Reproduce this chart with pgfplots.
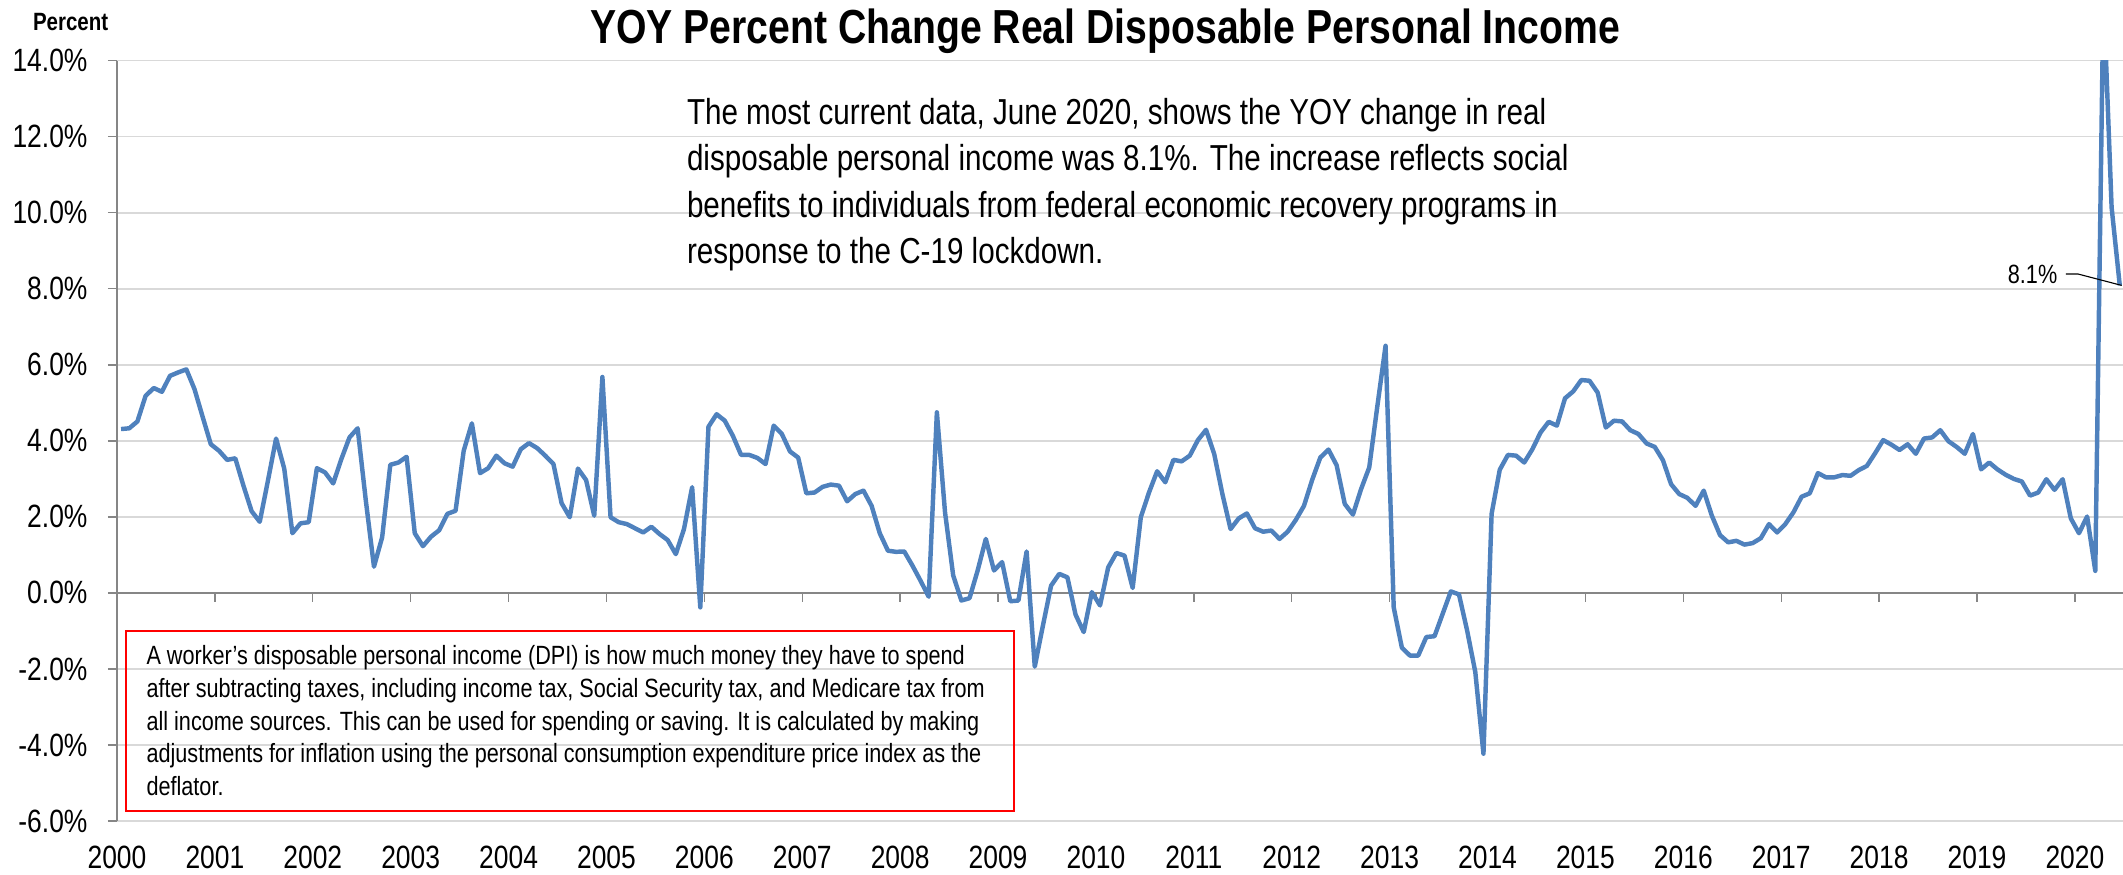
\documentclass[border=0pt]{standalone}
\usepackage{fontspec}
\setmainfont{Liberation Sans}[FakeStretch=0.82]
\usepackage{pgfplots}
\pgfplotsset{compat=1.18}
\usepackage{pgfplotstable}
\definecolor{dpiblue}{HTML}{4F81BD}
\definecolor{gridgray}{HTML}{D9D9D9}
\definecolor{axisgray}{HTML}{868686}
\pgfplotstableread{
y
4.31
4.33
4.51
5.18
5.39
5.29
5.71
5.80
5.88
5.36
4.63
3.91
3.74
3.50
3.54
2.82
2.15
1.87
2.95
4.06
3.27
1.57
1.83
1.86
3.28
3.17
2.88
3.52
4.09
4.33
2.43
0.69
1.46
3.37
3.43
3.58
1.57
1.23
1.48
1.65
2.08
2.16
3.74
4.46
3.15
3.28
3.61
3.41
3.32
3.78
3.94
3.81
3.61
3.39
2.36
1.99
3.27
2.97
2.03
5.68
1.99
1.86
1.81
1.70
1.59
1.74
1.55
1.39
1.02
1.68
2.78
-0.38
4.37
4.70
4.53
4.13
3.63
3.63
3.55
3.39
4.40
4.18
3.72
3.56
2.62
2.64
2.79
2.85
2.82
2.41
2.60
2.69
2.29
1.57
1.11
1.08
1.09
0.72
0.32
-0.10
4.75
2.12
0.46
-0.20
-0.14
0.59
1.42
0.59
0.81
-0.22
-0.20
1.09
-1.94
-0.86
0.19
0.50
0.41
-0.57
-1.03
0.02
-0.33
0.67
1.05
0.98
0.13
1.99
2.64
3.20
2.91
3.50
3.46
3.61
4.02
4.29
3.65
2.60
1.68
1.96
2.09
1.70
1.61
1.64
1.42
1.61
1.92
2.29
2.97
3.56
3.77
3.36
2.34
2.06
2.73
3.30
4.92
6.50
-0.38
-1.44
-1.65
-1.65
-1.16
-1.14
-0.55
0.04
-0.04
-0.99
-2.08
-4.23
2.08
3.24
3.63
3.61
3.43
3.78
4.22
4.50
4.40
5.12
5.30
5.60
5.58
5.27
4.35
4.53
4.51
4.28
4.18
3.93
3.84
3.49
2.86
2.60
2.50
2.29
2.69
2.03
1.52
1.33
1.37
1.27
1.31
1.44
1.81
1.59
1.81
2.12
2.53
2.62
3.15
3.04
3.04
3.10
3.08
3.23
3.34
3.67
4.02
3.90
3.76
3.91
3.66
4.06
4.09
4.28
3.99
3.84
3.66
4.18
3.25
3.43
3.25
3.11
3.00
2.93
2.56
2.64
2.99
2.71
2.99
1.96
1.57
2.01
0.58
15.80
10.14
8.09
}\dpidata
\begin{document}
\begin{tikzpicture}
\path[use as bounding box] (-42.12pt,-19.44pt) rectangle (722.16pt,295.56pt);
\begin{axis}[
  at={(0,0)}, anchor=south west,
  scale only axis, width=722.16pt, height=273.71pt,
  xmin=-0.5, xmax=245.4, ymin=-6, ymax=14,
  axis line style={draw=none},
  xtick={-0.5,11.5,23.5,35.5,47.5,59.5,71.5,83.5,95.5,107.5,119.5,131.5,143.5,155.5,167.5,179.5,191.5,203.5,215.5,227.5,239.5},
  xticklabels={2000,2001,2002,2003,2004,2005,2006,2007,2008,2009,2010,2011,2012,2013,2014,2015,2016,2017,2018,2019,2020},
  ytick={-6,-4,-2,0,2,4,6,8,10,12,14},
  yticklabels={-6.0\%,-4.0\%,-2.0\%,0.0\%,2.0\%,4.0\%,6.0\%,8.0\%,10.0\%,12.0\%,14.0\%},
  ymajorgrids,
  major grid style={draw=gridgray, line width=0.55pt},
  tick pos=left, tick align=outside, major tick length=3.24pt,
  xtick style={draw=none},
  ytick style={draw=axisgray, line width=0.5pt},
  xticklabel style={font=\fontsize{11.6}{13}\selectfont, anchor=north, inner sep=0pt, yshift=-5.6pt},
  yticklabel style={font=\fontsize{11.6}{13}\selectfont, anchor=east, inner sep=0pt, xshift=-7.2pt},
  clip=true,
]
\draw[axisgray, line width=0.6pt] (axis cs:-0.5,0) -- (axis cs:245.4,0);
\pgfplotsinvokeforeach{11.5,23.5,35.5,47.5,59.5,71.5,83.5,95.5,107.5,119.5,131.5,143.5,155.5,167.5,179.5,191.5,203.5,215.5,227.5,239.5}{
  \draw[axisgray, line width=0.5pt] (axis cs:#1,0) -- ++(0pt,-3.24pt);
}
\addplot[dpiblue, line width=1.6pt, line join=round, mark=none] table[x expr=\coordindex, y=y]{\dpidata};
\end{axis}
\draw[axisgray, line width=0.5pt] (0pt,0pt) -- (0pt,273.71pt);
% title and unit label
\node[font=\bfseries\fontsize{17.2}{19}\selectfont, anchor=base] at (355.7pt,279.8pt) {YOY Percent Change Real Disposable Personal Income};
\node[font=\bfseries\fontsize{9}{11}\selectfont, anchor=base] at (-16.7pt,284.5pt) {Percent};
% annotation text
\begin{scope}[every node/.style={anchor=base west, inner sep=0pt, font=\fontsize{13.0}{16}\selectfont}]
\node at (205.0pt,250.6pt) {The most current data, June 2020, shows the YOY change in real};
\node at (205.0pt,234.0pt) {disposable personal income was 8.1\%. The increase reflects social};
\node at (205.0pt,217.4pt) {benefits to individuals from federal economic recovery programs in};
\node at (205.0pt,200.8pt) {response to the C-19 lockdown.};
\end{scope}
% definition box
\draw[red, line width=0.8pt] (3.24pt,3.6pt) rectangle (322.9pt,68.4pt);
\begin{scope}[every node/.style={anchor=base west, inner sep=0pt, font=\fontsize{9.5}{11}\selectfont}]
\node at (10.44pt,56.16pt) {A worker’s disposable personal income (DPI) is how much money they have to spend};
\node at (10.44pt,44.42pt) {after subtracting taxes, including income tax, Social Security tax, and Medicare tax from};
\node at (10.44pt,32.69pt) {all income sources. This can be used for spending or saving. It is calculated by making};
\node at (10.44pt,20.95pt) {adjustments for inflation using the personal consumption expenditure price index as the};
\node at (10.44pt,9.22pt) {deflator.};
\end{scope}
% 8.1% callout
\node[font=\fontsize{9.5}{11}\selectfont, inner sep=0pt] at (689.6pt,196.9pt) {8.1\%};
\draw[black, line width=0.4pt] (701.6pt,196.9pt) -- (706.0pt,196.9pt) -- (721.7pt,192.8pt);
\end{tikzpicture}
\end{document}
